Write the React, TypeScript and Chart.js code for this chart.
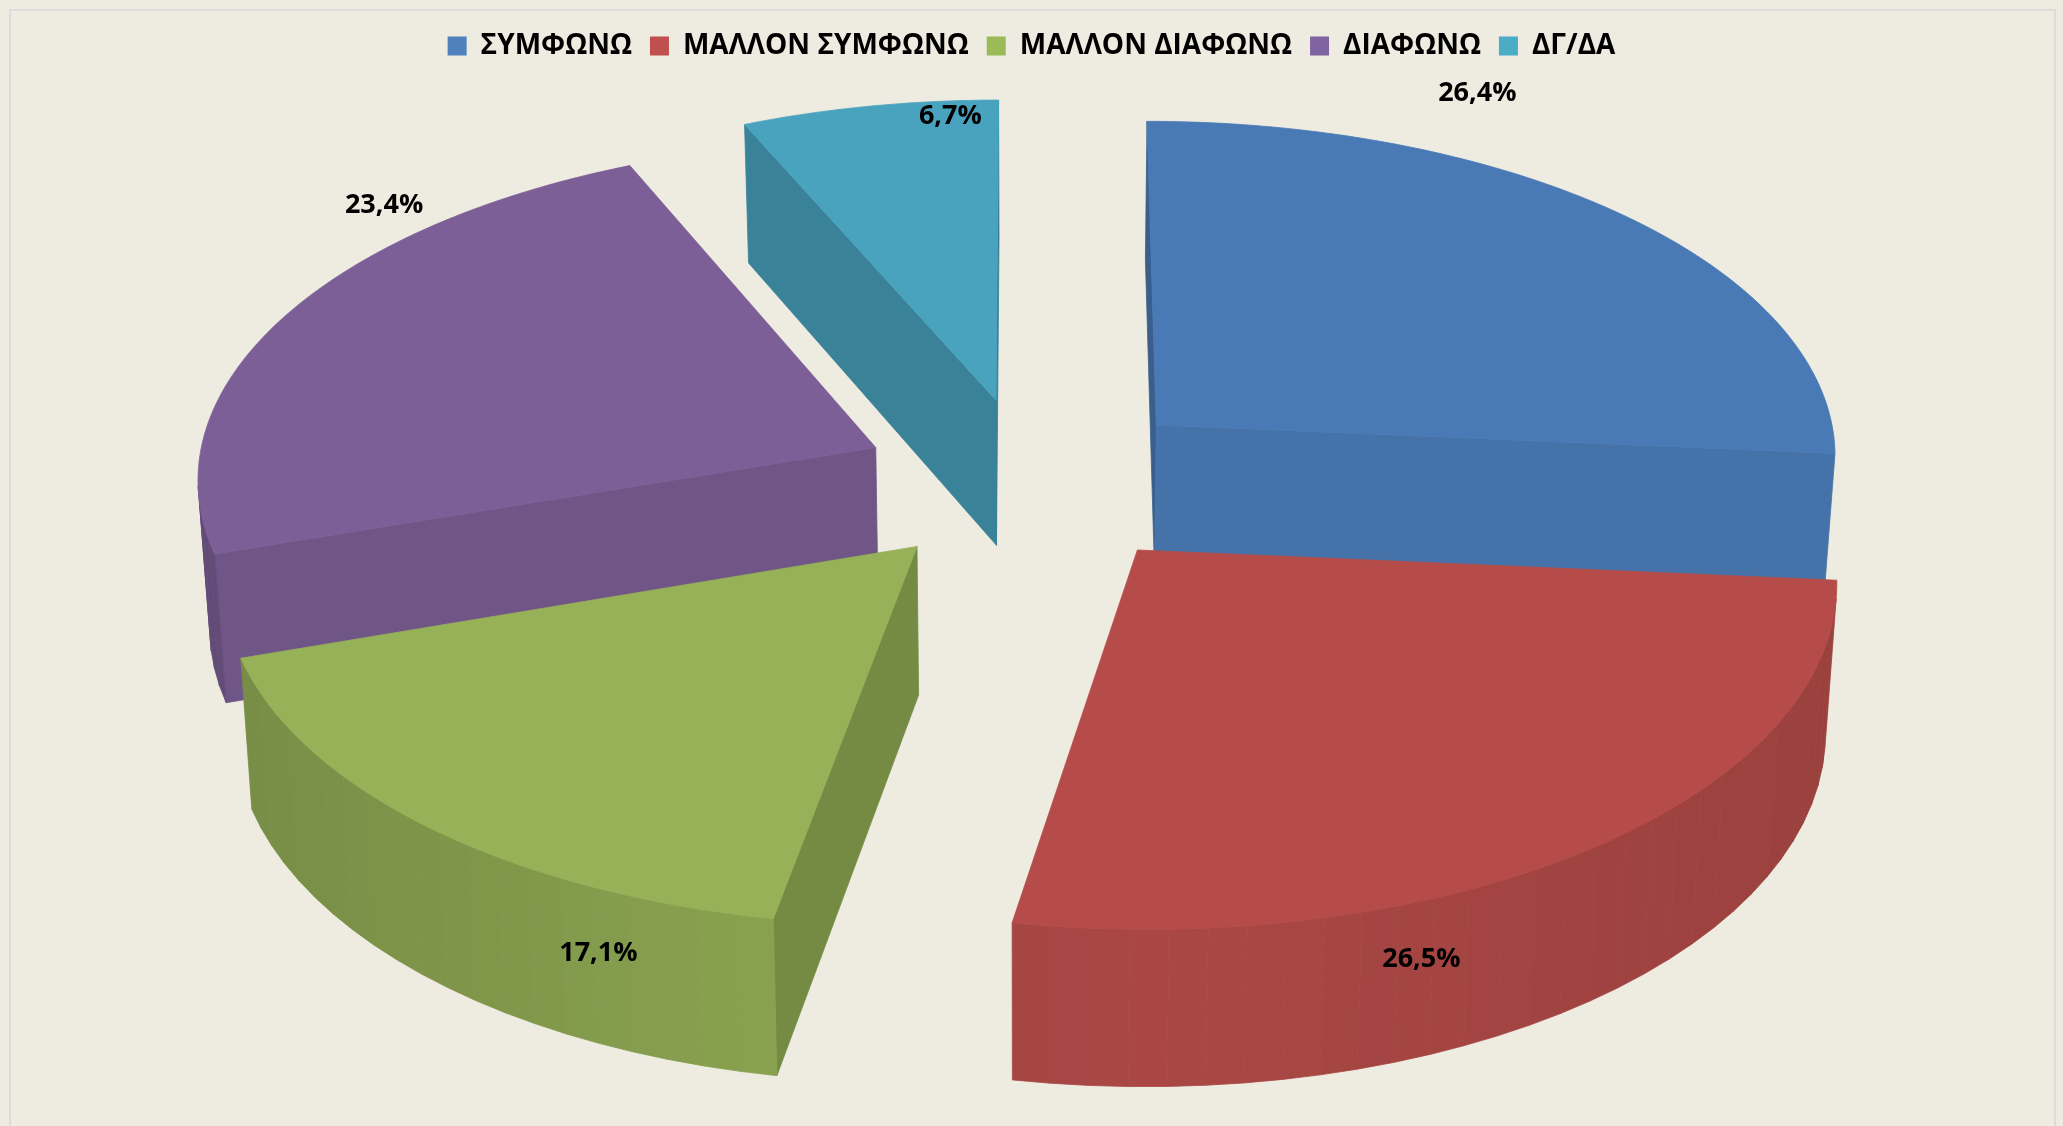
import React, { useEffect, useRef } from "react";
import { Chart, registerables } from "chart.js";

Chart.register(...registerables);

const categories = ["ΣΥΜΦΩΝΩ", "ΜΑΛΛΟΝ ΣΥΜΦΩΝΩ", "ΜΑΛΛΟΝ ΔΙΑΦΩΝΩ", "ΔΙΑΦΩΝΩ", "ΔΓ/ΔΑ"];
const shares = [26.4, 26.5, 17.1, 23.4, 6.7];
const legendColors = ["#4f81bd", "#c0504d", "#9bbb59", "#8064a2", "#4bacc6"];
const topColors = ["#4a7ab5", "#b54c49", "#96b157", "#7d5f97", "#49a3bf"];

// Look of the 3D pie: a perspective projection applied to the library's arcs.
const view = { cx: 1031, cy: 481.5, a: 680, aRight: 685, b: 337, p: 0.081, depth: 147, taper: 0.014 };
const explodePx = 118;
const labelNudge = [
  [-145, -121],
  [-176, 113],
  [172, 127],
  [101, -113],
  [81, 10],
];
const FONT = '"Open Sans", "Noto Sans", sans-serif';

function project(u: number, v: number, z: number) {
  const w = 1 / (1 - view.p * v);
  const a = u > 0 ? view.aRight : view.a;
  return {
    x: view.cx + a * u * w * (1 - view.taper * z),
    y: view.cy + view.b * v * w + z * view.depth * Math.pow(w, 0.66),
  };
}

function shade(hex: string, f: number) {
  const n = parseInt(hex.slice(1), 16);
  const c = [(n >> 16) & 255, (n >> 8) & 255, n & 255].map((x) => Math.round(x * f));
  return `rgb(${c[0]},${c[1]},${c[2]})`;
}

type P = { x: number; y: number };

function poly(ctx: CanvasRenderingContext2D, pts: P[], color: string) {
  ctx.beginPath();
  pts.forEach((p, i) => (i ? ctx.lineTo(p.x, p.y) : ctx.moveTo(p.x, p.y)));
  ctx.closePath();
  ctx.fillStyle = color;
  ctx.strokeStyle = color;
  ctx.lineWidth = 0.8;
  ctx.fill();
  ctx.stroke();
}

function area(pts: P[]) {
  let s = 0;
  pts.forEach((p, i) => {
    const q = pts[(i + 1) % pts.length];
    s += p.x * q.y - q.x * p.y;
  });
  return s / 2;
}

const pie3d = {
  id: "pie3d",
  beforeDraw(chart: any) {
    const { ctx, width, height } = chart;
    ctx.save();
    ctx.fillStyle = "#eeece1";
    ctx.fillRect(0, 0, width, height);
    ctx.strokeStyle = "#dcdcdc";
    ctx.lineWidth = 2;
    ctx.strokeRect(10, 10, width - 18, height + 40);
    ctx.restore();
  },
  beforeDatasetsDraw(chart: any) {
    const { ctx } = chart;
    const meta = chart.getDatasetMeta(0);
    const slices = meta.data.map((arc: any, index: number) => {
      const { startAngle, endAngle, outerRadius } = arc.getProps(["startAngle", "endAngle", "outerRadius"], true);
      const mid = (startAngle + endAngle) / 2;
      const e = (arc.options.offset || 0) / outerRadius;
      return { index, startAngle, endAngle, mid, ox: e * Math.cos(mid), oy: e * Math.sin(mid) };
    });
    const rim = (s: any, a: number, z: number) => project(s.ox + Math.cos(a), s.oy + Math.sin(a), z);
    ctx.save();
    [...slices].sort((p, q) => p.oy - q.oy).forEach((s: any) => {
      const col = topColors[s.index];
      const n = Math.max(2, Math.ceil((s.endAngle - s.startAngle) / (Math.PI / 60)));
      const angle = (i: number) => s.startAngle + ((s.endAngle - s.startAngle) * i) / n;
      const apexT = project(s.ox, s.oy, 0);
      const apexB = project(s.ox, s.oy, 1);
      // cut faces, only the ones turned to the viewer
      const startFace = [apexT, rim(s, s.startAngle, 0), rim(s, s.startAngle, 1), apexB];
      const endFace = [apexT, apexB, rim(s, s.endAngle, 1), rim(s, s.endAngle, 0)];
      if (area(startFace) < 0) {
        poly(ctx, startFace, shade(col, 0.95 - 0.17 * Math.abs(Math.sin(s.startAngle))));
      }
      if (area(endFace) < 0) {
        poly(ctx, endFace, shade(col, 0.95 - 0.17 * Math.abs(Math.sin(s.endAngle))));
      }
      // outer wall, only the part turned to the viewer
      for (let i = 0; i < n; i++) {
        const a0 = angle(i);
        const a1 = angle(i + 1);
        const quad = [rim(s, a0, 0), rim(s, a0, 1), rim(s, a1, 1), rim(s, a1, 0)];
        if (area(quad) <= 0) continue;
        const c = Math.cos((a0 + a1) / 2);
        const f = 0.94 - (c > 0 ? 0.09 : 0.15) * Math.abs(c);
        poly(ctx, quad, shade(col, f));
      }
      // top
      const top = [apexT];
      for (let i = 0; i <= n * 3; i++) top.push(rim(s, s.startAngle + ((s.endAngle - s.startAngle) * i) / (n * 3), 0));
      poly(ctx, top, col);
    });
    // value labels
    ctx.fillStyle = "#000";
    ctx.font = `bold 27px ${FONT}`;
    ctx.textAlign = "center";
    ctx.textBaseline = "middle";
    slices.forEach((s: any) => {
      const p = rim(s, s.mid, 0);
      const text = shares[s.index].toFixed(1).replace(".", ",") + "%";
      ctx.fillText(text, p.x + labelNudge[s.index][0], p.y + labelNudge[s.index][1]);
    });
    ctx.restore();
    return false;
  },
};

export default function App() {
  const ref = useRef<HTMLCanvasElement>(null);
  useEffect(() => {
    const chart = new Chart(ref.current!, {
      type: "pie",
      data: {
        labels: categories,
        datasets: [{ data: shares, backgroundColor: legendColors, borderWidth: 0, offset: explodePx }],
      },
      options: {
        responsive: false,
        animation: false,
        events: [],
        layout: { padding: { top: 14 } },
        plugins: {
          tooltip: { enabled: false },
          legend: {
            position: "top",
            labels: {
              color: "#000",
              boxWidth: 19,
              boxHeight: 19,
              padding: 18,
              font: { family: FONT, weight: "bold", size: 28 },
            },
          },
        },
      },
      plugins: [pie3d],
    } as any);
    return () => chart.destroy();
  }, []);
  return (
    <canvas
      ref={ref}
      width={2063}
      height={1126}
      style={{ position: "fixed", left: 0, top: 0, display: "block" }}
    />
  );
}
